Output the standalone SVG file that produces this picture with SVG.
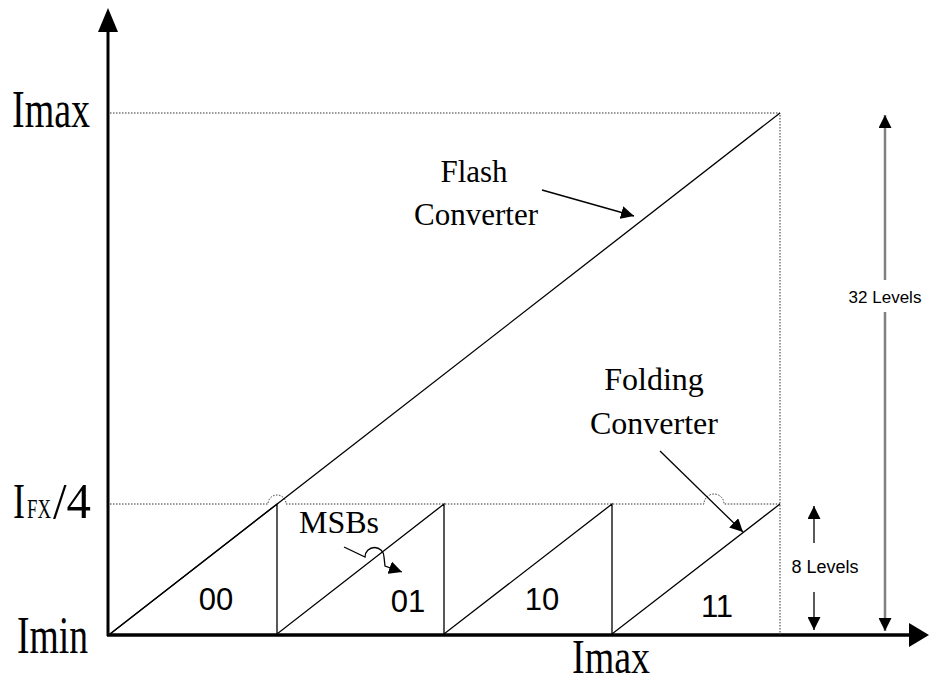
<svg xmlns="http://www.w3.org/2000/svg" width="929" height="683" viewBox="0 0 929 683">
<style>
.serif{font-family:"Liberation Serif","Times New Roman",serif;fill:#000}
.sans{font-family:"Liberation Sans",Arial,sans-serif;fill:#000}
.dot{fill:none;stroke:#333;stroke-width:1;stroke-dasharray:1.5 1.5}
.ln{fill:none;stroke:#000;stroke-width:1.3}
</style>
<defs>
<marker id="ahs" viewBox="0 0 10 10" refX="10" refY="5" markerWidth="13" markerHeight="13" markerUnits="userSpaceOnUse" orient="auto"><path d="M0,0 L10,5 L0,10 Z" fill="#000"/></marker>
</defs>
<rect width="929" height="683" fill="#fff"/>
<g id="axes">
<line x1="108" y1="636" x2="108" y2="30" stroke="#000" stroke-width="3"/>
<polygon points="108,8 98,32 118,32" fill="#000"/>
<line x1="107" y1="635" x2="910" y2="635" stroke="#000" stroke-width="3.5"/>
<polygon points="929,635 909,623 909,647" fill="#000"/>
</g>
<g id="guides">
<path class="dot" d="M110,113 H780 V635"/>
<path class="dot" d="M110,504 H268 A9,9 0 0 1 286,504 H704 A10,10 0 0 1 724,504 H780"/>
</g>
<g id="flash-line"><line class="ln" x1="110" y1="634" x2="780" y2="113"/></g>
<g id="folding-line"><path class="ln" d="M110,634 L277,504 L277,634 L444,504 L444,634 L612,504 L612,634 L780,504"/></g>
<g id="connectors">
<line x1="542" y1="190" x2="634" y2="216" stroke="#000" stroke-width="1.3" marker-end="url(#ahs)"/>
<line x1="660" y1="451" x2="743" y2="532" stroke="#000" stroke-width="1.3" marker-end="url(#ahs)"/>
<path d="M344,547 L365,557 A9.5,9.5 0 0 1 384,557 L385,566 L402,572" fill="none" stroke="#000" stroke-width="1.3" marker-end="url(#ahs)"/>
<line x1="885" y1="280" x2="885" y2="115" stroke="#808080" stroke-width="2.5" marker-end="url(#ahs)"/>
<line x1="885" y1="312" x2="885" y2="631" stroke="#808080" stroke-width="2.5" marker-end="url(#ahs)"/>
<line x1="814" y1="543" x2="814" y2="506" stroke="#000" stroke-width="1.3" marker-end="url(#ahs)"/>
<line x1="814" y1="592" x2="814" y2="630" stroke="#000" stroke-width="1.3" marker-end="url(#ahs)"/>
</g>
<g id="label-imax-y"><text class="serif" x="12" y="127" font-size="52" textLength="78" lengthAdjust="spacingAndGlyphs">Imax</text></g>
<g id="label-ifx">
<text class="serif" x="13" y="518" font-size="50" textLength="12" lengthAdjust="spacingAndGlyphs">I</text>
<text class="serif" x="27" y="518" font-size="28" textLength="24" lengthAdjust="spacingAndGlyphs">FX</text>
<text class="serif" x="53" y="518" font-size="50" textLength="38" lengthAdjust="spacingAndGlyphs">/4</text>
</g>
<g id="label-imin"><text class="serif" x="17" y="653" font-size="52" textLength="71" lengthAdjust="spacingAndGlyphs">Imin</text></g>
<g id="label-imax-x"><text class="serif" x="572" y="673" font-size="48" textLength="78" lengthAdjust="spacingAndGlyphs">Imax</text></g>
<g id="label-flash"><text class="serif" font-size="31" text-anchor="middle"><tspan x="474" y="182">Flash</tspan><tspan x="476" y="225">Converter</tspan></text></g>
<g id="label-folding"><text class="serif" font-size="32" text-anchor="middle"><tspan x="654" y="390">Folding</tspan><tspan x="654" y="434">Converter</tspan></text></g>
<g id="label-msbs"><text class="serif" x="299" y="533" font-size="32">MSBs</text></g>
<g id="codes">
<text class="sans" x="216" y="610" font-size="31" text-anchor="middle">00</text>
<text class="sans" x="408" y="612" font-size="31" text-anchor="middle">01</text>
<text class="sans" x="542" y="610" font-size="31" text-anchor="middle">10</text>
<text class="sans" x="717" y="617" font-size="31" text-anchor="middle">11</text>
</g>
<g id="label-32"><text class="sans" x="885" y="303" font-size="17" text-anchor="middle">32 Levels</text></g>
<g id="label-8"><text class="sans" x="825" y="573" font-size="18" text-anchor="middle">8 Levels</text></g>
</svg>
